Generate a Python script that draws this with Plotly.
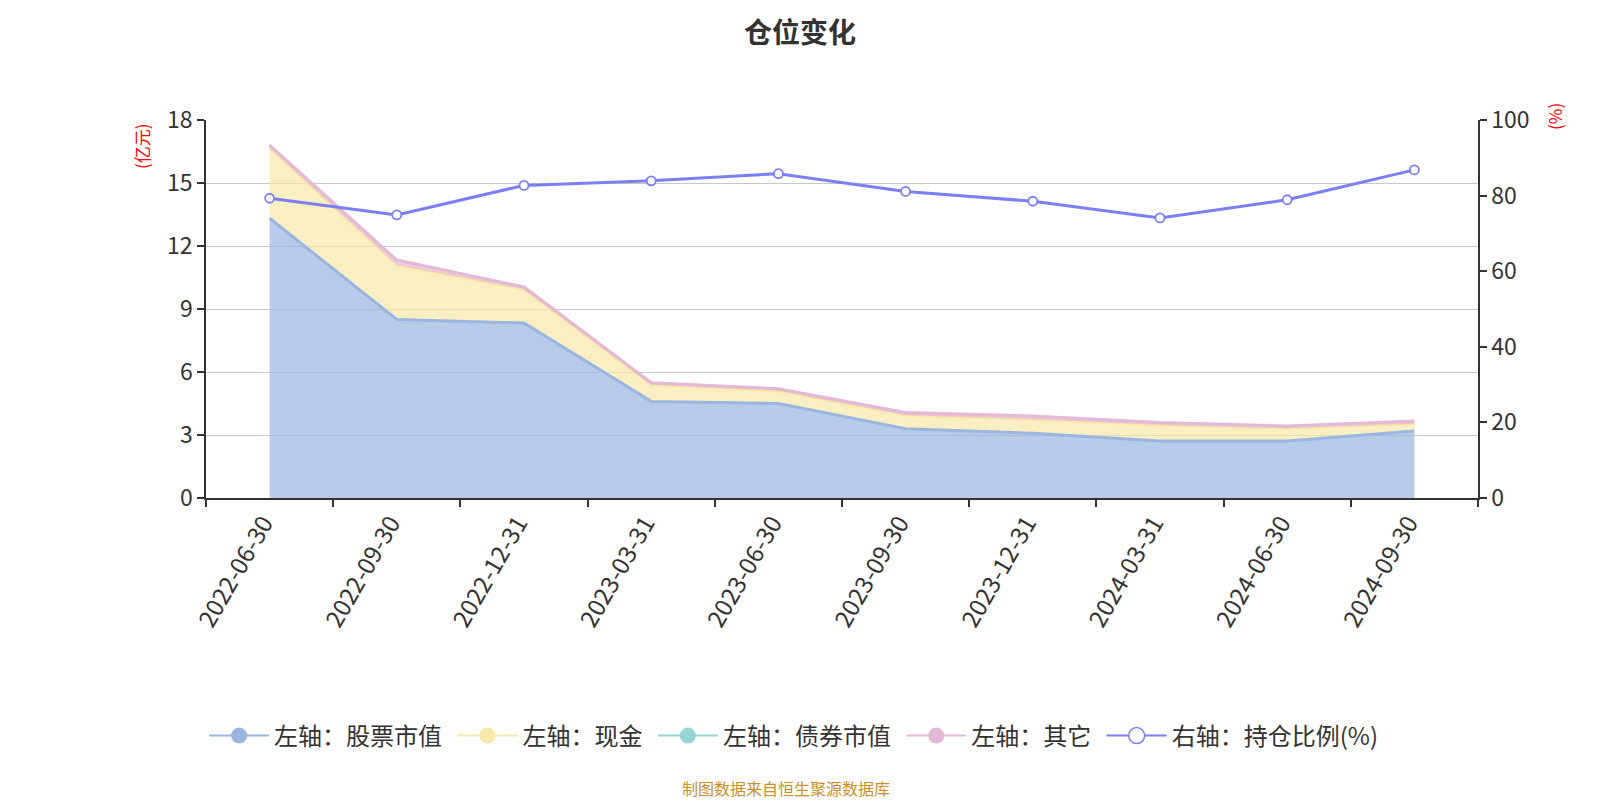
import plotly.graph_objects as go

dates = ["2022-06-30", "2022-09-30", "2022-12-31", "2023-03-31", "2023-06-30",
         "2023-09-30", "2023-12-31", "2024-03-31", "2024-06-30", "2024-09-30"]
stock = [13.32, 8.50, 8.33, 4.60, 4.50, 3.30, 3.08, 2.71, 2.71, 3.19]
cash = [3.35, 2.59, 1.61, 0.79, 0.61, 0.64, 0.67, 0.77, 0.61, 0.35]
bond = [0, 0, 0, 0, 0, 0, 0, 0, 0, 0]
other = [0.13, 0.24, 0.11, 0.10, 0.09, 0.13, 0.16, 0.11, 0.11, 0.13]
ratio = [79.3, 74.9, 82.7, 83.9, 85.8, 81.1, 78.5, 74.1, 78.9, 86.8]

left_ticks = [0, 3, 6, 9, 12, 15, 18]
right_ticks = [0, 20, 40, 60, 80, 100]

C_STOCK = "#9ab6e0"
C_CASH = "#f8e8a9"
C_BOND = "#96d4d4"
C_OTHER = "#e6b8d8"
C_RATIO = "#7b7ff5"

def rgba(h, a):
    h = h.lstrip("#")
    return "rgba(%d,%d,%d,%s)" % (int(h[0:2], 16), int(h[2:4], 16), int(h[4:6], 16), a)

fig = go.Figure()
series = [("左轴：股票市值", stock, C_STOCK, 3),
          ("左轴：现金", cash, C_CASH, 3),
          ("左轴：债券市值", bond, C_BOND, 0),
          ("左轴：其它", other, C_OTHER, 3)]
for name, vals, col, w in series:
    fig.add_trace(go.Scatter(x=dates, y=vals, name=name, stackgroup="left", mode="lines",
                             line=dict(color=col, width=w), fillcolor=rgba(col, 0.7),
                             showlegend=False, hoverinfo="skip"))

fig.add_trace(go.Scatter(x=dates, y=ratio, name="右轴：持仓比例(%)", yaxis="y2", mode="lines+markers",
                         line=dict(color=C_RATIO, width=3),
                         marker=dict(size=9, color="white", line=dict(color=C_RATIO, width=1.8)),
                         showlegend=False))

PAD = "\u00a0"
# legend entries
for name, vals, col, w in series:
    fig.add_trace(go.Scatter(x=[None], y=[None], name=name + PAD, mode="lines+markers",
                             line=dict(color=col, width=2),
                             marker=dict(size=16, color=col, line=dict(width=0))))
fig.add_trace(go.Scatter(x=[None], y=[None], name="右轴：持仓比例(%)", mode="lines+markers", yaxis="y2",
                         line=dict(color=C_RATIO, width=2),
                         marker=dict(size=16, color="white", line=dict(color=C_RATIO, width=1.5))))

font = "Noto Sans CJK SC"
L, R, T, B = 198, 130, 112, 310
PW, PH = 1600 - L - R, 800 - T - B

def px(xp):
    return (xp - L) / PW

def py(yp):
    return (800 - B - yp) / PH

fig.update_layout(
    width=1600, height=800,
    paper_bgcolor="white", plot_bgcolor="white",
    margin=dict(l=L, r=R, t=T, b=B),
    font=dict(family=font, color="#333333"),
    xaxis=dict(type="category", categoryorder="array", categoryarray=dates,
               range=[-0.5, 9.5], tickson="boundaries", ticks="outside", ticklen=7,
               tickcolor="#333333", tickwidth=1.5, showline=True, linecolor="#333333", linewidth=1.5,
               tickangle=-60, tickfont=dict(size=24, color="#333333"), ticklabelshift=-6,
               showgrid=False, zeroline=False),
    yaxis=dict(range=[0, 18], tickvals=left_ticks, ticks="outside", ticklen=7,
               tickcolor="#333333", tickwidth=1.5, showline=True, linecolor="#333333", linewidth=1.5,
               showgrid=True, gridcolor="#c8c8c8", gridwidth=1.2, zeroline=False,
               tickfont=dict(size=23, color="#333333")),
    yaxis2=dict(range=[0, 100], tickvals=right_ticks, overlaying="y", side="right",
                ticks="outside", ticklen=7, tickcolor="#333333", tickwidth=1.5,
                showline=True, linecolor="#333333", linewidth=1.5, showgrid=False, zeroline=False,
                tickfont=dict(size=23, color="#333333")),
    legend=dict(orientation="h", x=0.491, xref="container", xanchor="center",
                y=1 - 728 / 800, yref="container", yanchor="middle",
                font=dict(size=24, color="#333333", family=font), itemwidth=60,
                traceorder="normal", bgcolor="rgba(0,0,0,0)"),
    showlegend=True,
    hovermode=False,
)

fig.add_annotation(text="<b>仓位变化</b>", xref="paper", yref="paper", x=px(792), y=py(23),
                   xanchor="center", yanchor="middle", showarrow=False,
                   font=dict(size=28, color="#333333", family=font))
fig.add_annotation(text="(亿元)", xref="paper", yref="paper", x=px(133), y=py(113),
                   xanchor="center", yanchor="top", showarrow=False, textangle=-90,
                   font=dict(size=17, color="red", family=font))
fig.add_annotation(text="(%)", xref="paper", yref="paper", x=px(1546), y=py(109),
                   xanchor="center", yanchor="middle", showarrow=False, textangle=-90,
                   font=dict(size=17, color="red", family=font))
fig.add_annotation(text="制图数据来自恒生聚源数据库", xref="paper", yref="paper",
                   x=px(778), y=py(780), xanchor="center", yanchor="middle",
                   showarrow=False, font=dict(size=16, color="#c8902a", family=font))

fig.write_html("out.html")
